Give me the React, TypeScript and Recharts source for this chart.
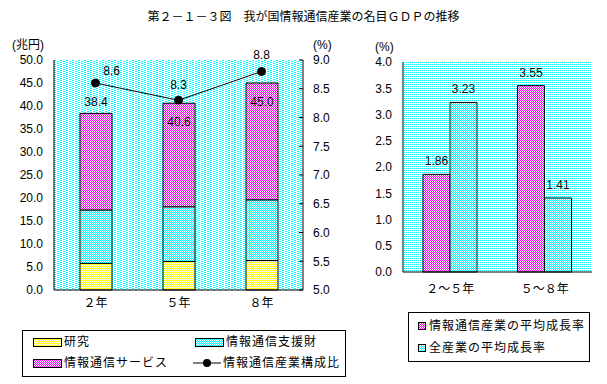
import React from 'react'
import { ComposedChart, BarChart, Bar, Line, XAxis, YAxis, CartesianGrid, LabelList } from 'recharts'

const FONT = '"Liberation Sans", "Noto Sans CJK JP", sans-serif'

// left: 名目GDP (兆円) + 構成比 (%)
const YEARS = ['２年', '５年', '８年']
const RESEARCH = [5.8, 6.2, 6.4]
const SUPPORT = [11.6, 11.9, 13.2]
const SERVICE = [21.0, 22.5, 25.4]
const TOTALS = [38.4, 40.6, 45.0]
const SHARE = [8.6, 8.3, 8.8]
const GDP_TICKS = [0, 5, 10, 15, 20, 25, 30, 35, 40, 45, 50]
const SHARE_TICKS = [5, 5.5, 6, 6.5, 7, 7.5, 8, 8.5, 9]

// right: 平均成長率 (%)
const PERIODS = ['２～５年', '５～８年']
const ICT_GROWTH = [1.86, 3.55]
const ALL_GROWTH = [3.23, 1.41]
const GROWTH_TICKS = [0, 0.5, 1, 1.5, 2, 2.5, 3, 3.5, 4]

// label placement tweaks (total label goes inside the bar when the line dot sits on top)
const TOTAL_INSIDE = [false, true, true]
const SHARE_LABEL_SHIFT = [[16, -12], [0, -15], [0, -17]]

const gdpData = YEARS.map((y, i) => ({
  year: y, research: RESEARCH[i], support: SUPPORT[i], service: SERVICE[i], total: TOTALS[i], share: SHARE[i],
}))
const growthData = PERIODS.map((p, i) => ({ period: p, ict: ICT_GROWTH[i], all: ALL_GROWTH[i] }))

const fmt1 = (v: number) => v.toFixed(1)
const tickStyle = { fontSize: 12, fill: '#000', fontFamily: FONT }

// dithered fills like the original bitmap
function Patterns() {
  const checker = (id: string, c: string) => (
    <pattern id={id} width={2} height={2} patternUnits="userSpaceOnUse">
      <rect width={2} height={2} fill="#fff" />
      <rect x={0} y={0} width={1} height={1} fill={c} />
      <rect x={1} y={1} width={1} height={1} fill={c} />
    </pattern>
  )
  return (
    <svg width={0} height={0} style={{ position: 'absolute' }}>
      <defs>
        {checker('pY', '#ffff00')}
        {checker('pC', '#00ffff')}
        {checker('pM', '#ff00ff')}
        <pattern id="bgL" width={6} height={2} patternUnits="userSpaceOnUse">
          <rect width={6} height={2} fill="#fff" />
          <rect x={0} y={0} width={2} height={1} fill="#00ffff" />
          <rect x={3} y={1} width={2} height={1} fill="#00ffff" />
        </pattern>
        <pattern id="bgR" width={2} height={2} patternUnits="userSpaceOnUse">
          <rect width={2} height={2} fill="#fff" />
          <rect x={0} y={0} width={1} height={1} fill="#00ffff" />
        </pattern>
      </defs>
    </svg>
  )
}

const TotalLabel = (props: any) => {
  const { x, y, width, index } = props
  const inside = TOTAL_INSIDE[index]
  return (
    <text x={x + width / 2} y={inside ? y + 23 : y - 7} textAnchor="middle" style={tickStyle}>
      {fmt1(TOTALS[index])}
    </text>
  )
}

const ShareLabel = (props: any) => {
  const { x, y, index } = props
  const [dx, dy] = SHARE_LABEL_SHIFT[index]
  return (
    <text x={x + dx} y={y + dy + 4} textAnchor="middle" style={tickStyle}>
      {fmt1(SHARE[index])}
    </text>
  )
}

const txt = (left: number, top: number, s: string, extra: any = {}) => (
  <div style={{ position: 'absolute', left, top, fontSize: 12, fontFamily: FONT, lineHeight: '14px', whiteSpace: 'nowrap', ...extra }}>{s}</div>
)

const Swatch = ({ left, top, w, h, fill }: any) => (
  <svg style={{ position: 'absolute', left, top }} width={w} height={h}>
    <rect x={0.5} y={0.5} width={w - 1} height={h - 1} fill={fill} stroke="#000" />
  </svg>
)

export default function App() {
  return (
    <div style={{ position: 'absolute', left: 0, top: 0, width: 607, height: 384, background: '#fff', fontFamily: FONT }}>
      <Patterns />
      {txt(0, 10, '第２－１－３図　我が国情報通信産業の名目ＧＤＰの推移', { width: 607, textAlign: 'center' })}
      {txt(12, 38, '(兆円)')}
      {txt(313, 38, '(%)')}
      {txt(375, 40, '(%)')}

      <div style={{ position: 'absolute', left: 0, top: 0 }}>
        <ComposedChart width={360} height={330} data={gdpData} margin={{ top: 60, right: 12, bottom: 10, left: 0 }}>
          <CartesianGrid yAxisId="l" horizontal={false} vertical={false} fill="url(#bgL)" fillOpacity={1} />
          <XAxis dataKey="year" tick={tickStyle} tickLine={false} axisLine={{ stroke: '#000' }} height={30} />
          <XAxis xAxisId="top" dataKey="year" orientation="top" tick={false} tickLine={false} axisLine={{ stroke: '#000' }} height={0} />
          <YAxis yAxisId="l" width={54} domain={[0, 50]} ticks={GDP_TICKS} tickFormatter={fmt1} tick={tickStyle}
            tickLine={false} tickMargin={5} axisLine={{ stroke: '#000' }} interval={0} />
          <YAxis yAxisId="r" orientation="right" width={45} domain={[5, 9]} ticks={SHARE_TICKS} tickFormatter={fmt1}
            tick={tickStyle} tickLine={{ stroke: '#000' }} tickSize={-4} tickMargin={14} axisLine={{ stroke: '#000' }} interval={0} />
          <Bar yAxisId="l" dataKey="research" stackId="a" barSize={32} fill="url(#pY)" stroke="#000" strokeWidth={1} isAnimationActive={false} />
          <Bar yAxisId="l" dataKey="support" stackId="a" barSize={32} fill="url(#pC)" stroke="#000" strokeWidth={1} isAnimationActive={false} />
          <Bar yAxisId="l" dataKey="service" stackId="a" barSize={32} fill="url(#pM)" stroke="#000" strokeWidth={1} isAnimationActive={false}>
            <LabelList dataKey="total" content={TotalLabel} />
          </Bar>
          <Line yAxisId="r" dataKey="share" stroke="#000" strokeWidth={1} dot={{ r: 4, fill: '#000', stroke: '#000' }} isAnimationActive={false}>
            <LabelList dataKey="share" content={ShareLabel} />
          </Line>
        </ComposedChart>
      </div>

      <div style={{ position: 'absolute', left: 360, top: 0 }}>
        <BarChart width={247} height={310} data={growthData} barGap={0} margin={{ top: 62, right: 15, bottom: 8, left: 0 }}>
          <CartesianGrid horizontal={false} vertical={false} fill="url(#bgR)" fillOpacity={1} />
          <XAxis dataKey="period" tick={tickStyle} tickLine={false} tickMargin={6} axisLine={{ stroke: '#000' }} height={30} />
          <XAxis xAxisId="top" dataKey="period" orientation="top" tick={false} tickLine={false} axisLine={{ stroke: '#000' }} height={0} />
          <YAxis width={43} domain={[0, 4]} ticks={GROWTH_TICKS} tickFormatter={fmt1} tick={tickStyle}
            tickLine={false} tickMargin={5} axisLine={{ stroke: '#000' }} interval={0} />
          <YAxis yAxisId="r" orientation="right" width={0} tick={false} tickLine={false} axisLine={{ stroke: '#000' }} />
          <Bar dataKey="ict" barSize={27} fill="url(#pM)" stroke="#000" strokeWidth={1} isAnimationActive={false}>
            <LabelList dataKey="ict" position="top" offset={9} style={tickStyle} />
          </Bar>
          <Bar dataKey="all" barSize={27} fill="url(#pC)" stroke="#000" strokeWidth={1} isAnimationActive={false}>
            <LabelList dataKey="all" position="top" offset={9} style={tickStyle} />
          </Bar>
        </BarChart>
      </div>

      <div style={{ position: 'absolute', left: 22, top: 330, width: 322, height: 45, border: '1px solid #000', background: '#fff' }}>
        <Swatch left={10} top={7} w={29} h={9} fill="url(#pY)" />
        {txt(41, 4, '研究', { letterSpacing: 1 })}
        <Swatch left={172} top={7} w={29} h={9} fill="url(#pC)" />
        {txt(203, 4, '情報通信支援財', { letterSpacing: 1 })}
        <Swatch left={10} top={28} w={29} h={9} fill="url(#pM)" />
        {txt(41, 25, '情報通信サービス', { letterSpacing: 1 })}
        <svg style={{ position: 'absolute', left: 170, top: 27 }} width={28} height={10}>
          <line x1={0} y1={5} x2={28} y2={5} stroke="#000" />
          <circle cx={14} cy={5} r={4} fill="#000" />
        </svg>
        {txt(200, 25, '情報通信産業構成比', { letterSpacing: 1 })}
      </div>

      <div style={{ position: 'absolute', left: 408, top: 312, width: 180, height: 48, border: '1px solid #000', background: '#fff' }}>
        <Swatch left={9} top={9} w={8} h={8} fill="url(#pM)" />
        {txt(20, 6, '情報通信産業の平均成長率', { letterSpacing: 1 })}
        <Swatch left={9} top={31} w={8} h={8} fill="url(#pC)" />
        {txt(20, 28, '全産業の平均成長率', { letterSpacing: 1 })}
      </div>
    </div>
  )
}
